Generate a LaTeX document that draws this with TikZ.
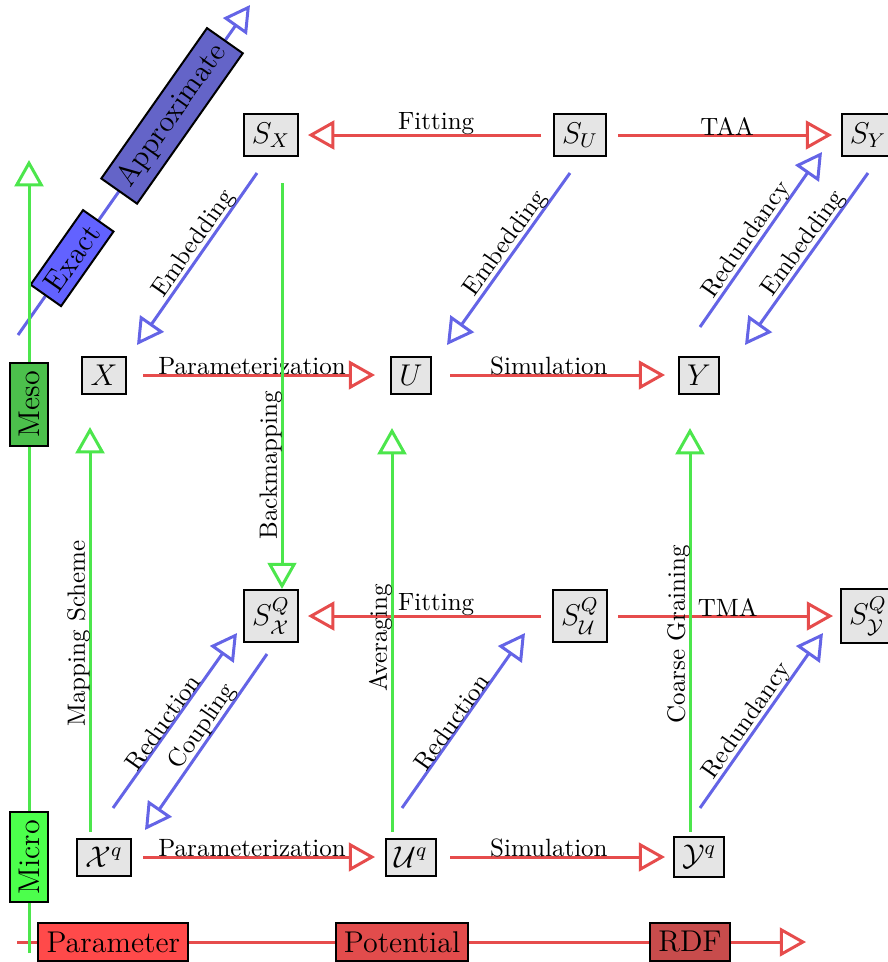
\documentclass[tikz,border=0pt]{standalone}
\usepackage{tikz}
\usetikzlibrary{arrows.meta, calc}
\usepackage{amsmath}
\usepackage{xcolor}
\definecolor{flowred}{RGB}{230, 76, 76}
\definecolor{flowblue}{RGB}{100, 100, 230}
\definecolor{flowgreen}{RGB}{76, 230, 76}
\definecolor{exactfill}{RGB}{98, 98, 255}
\definecolor{approxfill}{RGB}{100, 100, 200}
\definecolor{microfill}{RGB}{76, 255, 76}
\definecolor{mesofill}{RGB}{76, 192, 76}
\definecolor{paramfill}{RGB}{255, 74, 74}
\definecolor{potfill}{RGB}{226, 76, 76}
\definecolor{rdffill}{RGB}{200, 76, 76}

\begin{document}
\begin{tikzpicture}[
        x=0.4pt, y=0.4pt,
        space/.style={rectangle, draw, thick, fill=black!10,
                      inner sep=3.3pt, font=\large},
        tag/.style={rectangle, draw=black, thick, text=black,
                    inner sep=3.3pt, font=\large, sloped},
        arrow/.style={-{Triangle[open, length=10.5pt, width=11.5pt]}, very thick},
        lbl/.style={above, sloped, inner sep=0pt, outer sep=0pt, text=black},
    ]
    \useasboundingbox (0,0) rectangle (888,-962);

    % coarse-grained plane (back)
    \node[space] (SX)  at (271,-135) {$S_X$};
    \node[space] (SU)  at (580,-135) {$S_U$};
    \node[space] (SY)  at (868,-135) {$S_Y$};
    \node[space] (SXQ) at (271,-616) {$S_{\mathcal{X}}^{Q}$};
    \node[space] (SUQ) at (580,-616) {$S_{\mathcal{U}}^{Q}$};
    \node[space] (SYQ) at (868,-616) {$S_{\mathcal{Y}}^{Q}$};

    % model plane (front)
    \node[space] (X)  at (104,-375) {$X$};
    \node[space] (U)  at (411,-375) {$U$};
    \node[space] (Y)  at (699,-375) {$Y$};
    \node[space] (Xq) at (104,-857) {$\mathcal{X}^q$};
    \node[space] (Uq) at (411,-857) {$\mathcal{U}^q$};
    \node[space] (Yq) at (699,-857) {$\mathcal{Y}^q$};

    \coordinate (propstart)  at (17,-942);
    \coordinate (propend)    at (806,-942);
    \coordinate (modelstart) at (18,-335);
    \coordinate (modelend)   at (250,-5);
    \coordinate (levelstart) at (29,-953);
    \coordinate (levelend)   at (29,-160);

    % property axis
    \draw[arrow, flowred] (propstart) -- (propend)
        node[tag, fill=paramfill, pos=0.122] (param) {Parameter}
        node[tag, fill=potfill, pos=0.488] (pot) {Potential}
        node[tag, fill=rdffill, pos=0.853] (rdf) {RDF};

    \draw[arrow, flowred] ($(SU)+(-39,0)$) -- ($(SX)+(37,0)$) node[lbl, pos=0.45] {Fitting};
    \draw[arrow, flowred] ($(SU)+(38,0)$) -- ($(SY)+(-36,0)$) node[lbl, pos=0.51] {TAA};
    \draw[arrow, flowred] ($(X)+(39,0)$) -- ($(U)+(-36,0)$) node[lbl, pos=0.47] {Parameterization};
    \draw[arrow, flowred] ($(U)+(39,0)$) -- ($(Y)+(-34,0)$) node[lbl, pos=0.46] {Simulation};
    \draw[arrow, flowred] ($(SUQ)+(-39,0)$) -- ($(SXQ)+(37,0)$) node[lbl, pos=0.45] {Fitting};
    \draw[arrow, flowred] ($(SUQ)+(38,0)$) -- ($(SYQ)+(-35,0)$) node[lbl, pos=0.51] {TMA};
    \draw[arrow, flowred] ($(Xq)+(39,0)$) -- ($(Uq)+(-36,0)$) node[lbl, pos=0.47] {Parameterization};
    \draw[arrow, flowred] ($(Uq)+(39,0)$) -- ($(Yq)+(-34,0)$) node[lbl, pos=0.46] {Simulation};

    % between the planes
    \draw[arrow, flowblue] ($(SX)+(-14,-38)$) -- ($(X)+(33,30)$) node[lbl, pos=0.45] {Embedding};
    \draw[arrow, flowblue] ($(SU)+(-10,-38)$) -- ($(U)+(36,30)$) node[lbl, pos=0.45] {Embedding};
    \draw[arrow, flowblue] ($(SY)+(0,-38)$) -- ($(Y)+(46,30)$) node[lbl, pos=0.45] {Embedding};
    \draw[arrow, flowblue] ($(Y)+(1,48)$) -- ($(SY)+(-46,-17)$) node[lbl, pos=0.46] {Redundancy};
    \draw[arrow, flowblue] ($(Xq)+(9,49)$) -- ($(SXQ)+(-34,-17)$) node[lbl, pos=0.46] {Reduction};
    \draw[arrow, flowblue] ($(SXQ)+(-4,-38)$) -- ($(Xq)+(41,27)$) node[lbl, pos=0.45] {Coupling};
    \draw[arrow, flowblue] ($(Uq)+(-9,49)$) -- ($(SUQ)+(-55,-17)$) node[lbl, pos=0.46] {Reduction};
    \draw[arrow, flowblue] ($(Yq)+(1,49)$) -- ($(SYQ)+(-45,-17)$) node[lbl, pos=0.46] {Redundancy};

    % model axis
    \draw[arrow, flowblue] (modelstart) -- (modelend)
        node[tag, fill=exactfill, pos=0.233] (exact) {Exact}
        node[tag, fill=approxfill, pos=0.664] (approx) {Approximate};

    % resolution levels
    \draw[arrow, flowgreen] ($(SX)+(11,-48)$) -- ($(SXQ)+(11,27)$) node[lbl, rotate=180, pos=0.695] {Backmapping};
    \draw[arrow, flowgreen] ($(Xq)+(-14,25)$) -- ($(X)+(-14,-52)$) node[lbl, pos=0.49] {Mapping Scheme};
    \draw[arrow, flowgreen] ($(Uq)+(-19,25)$) -- ($(U)+(-19,-53)$) node[lbl, pos=0.48] {Averaging};
    \draw[arrow, flowgreen] ($(Yq)+(-9,25)$) -- ($(Y)+(-9,-53)$) node[lbl, pos=0.49] {Coarse Graining};

    % level axis
    \draw[arrow, flowgreen] (levelstart) -- (levelend)
        node[tag, fill=microfill, pos=0.121] (micro) {Micro}
        node[tag, fill=mesofill, pos=0.692] (meso) {Meso};

\end{tikzpicture}
\end{document}
